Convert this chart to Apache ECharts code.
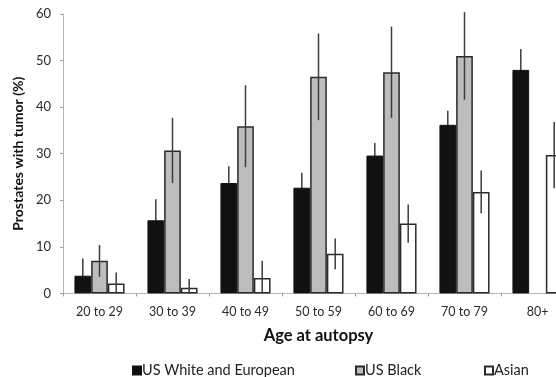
<!DOCTYPE html>
<html><head><meta charset="utf-8">
<script src="https://cdn.jsdelivr.net/npm/echarts@6/dist/echarts.min.js"></script>
<style>html,body{margin:0;padding:0;overflow:hidden;background:#fff}#c{width:600px;height:377px}</style>
</head><body><div id="c"></div>
<script>
const categories = ['20 to 29','30 to 39','40 to 49','50 to 59','60 to 69','70 to 79','80+'];
const seriesNames = ['US White and European','US Black','Asian'];
const whiteEuropean = [3.8, 15.7, 23.7, 22.7, 29.6, 36.2, 48.0];
const whiteEuropeanErr = [3.7, 4.5, 3.6, 3.2, 2.7, 3.0, 4.5];
const usBlack = [7.0, 30.7, 35.9, 46.5, 47.5, 51.0, null];
const usBlackErr = [3.4, 7.0, 8.8, 9.3, 9.8, 9.4, null];
const asian = [2.1, 1.2, 3.3, 8.5, 15.0, 21.8, 29.7];
const asianErr = [2.4, 1.9, 3.7, 3.3, 4.1, 4.6, 7.1];
const yMin = 0, yMax = 60, yStep = 10;

const BAR_W = 16.7;
const FONT = 'Lato, "Open Sans", sans-serif';
const vals = [whiteEuropean, usBlack, asian];
const errs = [whiteEuropeanErr, usBlackErr, asianErr];
const styles = [
  {color:'#111111', borderColor:'#111111', borderWidth:1},
  {color:'#bdbdbd', borderColor:'#2a2a2a', borderWidth:1.5},
  {color:'#ffffff', borderColor:'#2a2a2a', borderWidth:1.5}
];

function errRender(k){
  return function(params, api){
    const i = api.value(0), v = api.value(1), e = api.value(2);
    const top = api.coord([i, v + e]);
    const bot = api.coord([i, Math.max(0, v - e)]);
    const x = top[0] + (k - 1) * BAR_W;
    return {type:'line', shape:{x1:x, y1:top[1], x2:x, y2:bot[1]},
      style:{stroke:'#3c3c3c', lineWidth:1.5}};
  };
}

const series = [];
seriesNames.forEach((n, k) => {
  series.push({name:n, type:'bar', data:vals[k], barWidth:BAR_W, barGap:'0%', z:3,
    itemStyle:styles[k], silent:true});
});
seriesNames.forEach((n, k) => {
  const d = [];
  vals[k].forEach((v, i) => { if (v != null) d.push([i, v, errs[k][i]]); });
  series.push({type:'custom', renderItem:errRender(k), data:d, encode:{x:0, y:1},
    z:(k === 0 ? 1 : 5), silent:true});
});

const legendPos = [127, 350, 479];
const chart = echarts.init(document.getElementById('c'), null, {renderer:'canvas'});
chart.setOption({
  animation:false,
  backgroundColor:'#fff',
  textStyle:{fontFamily:FONT},
  grid:{left:63, right:26, top:14, bottom:83.6, containLabel:false},
  legend: seriesNames.map((n, k) => ({
    data:[n], left:legendPos[k], top:358, icon:'rect', itemWidth:8, itemHeight:8, itemGap:0,
    textStyle:{fontFamily:FONT, fontSize:14.5, color:'#222', padding:[0,0,0,-4]}, selectedMode:false
  })),
  xAxis:{type:'category', data:categories,
    name:'Age at autopsy', nameLocation:'middle', nameGap:34,
    nameTextStyle:{fontFamily:FONT, fontSize:16.5, fontWeight:'bold', color:'#111'},
    axisLine:{lineStyle:{color:'#b5b5b5', width:1}},
    axisTick:{show:true, length:3, lineStyle:{color:'#999'}},
    axisLabel:{fontFamily:FONT, fontSize:12.5, color:'#2a2a2a', margin:12, interval:0}},
  yAxis:{type:'value', min:yMin, max:yMax, interval:yStep,
    name:'Prostates with tumor (%)', nameLocation:'middle', nameGap:35,
    nameTextStyle:{fontFamily:FONT, fontSize:14, fontWeight:'bold', color:'#111'},
    axisLine:{show:true, lineStyle:{color:'#b5b5b5', width:1}},
    axisTick:{show:true, length:3, lineStyle:{color:'#999'}},
    splitLine:{show:false},
    axisLabel:{fontFamily:FONT, fontSize:13, color:'#2a2a2a', margin:12}},
  series:series
});
</script></body></html>
